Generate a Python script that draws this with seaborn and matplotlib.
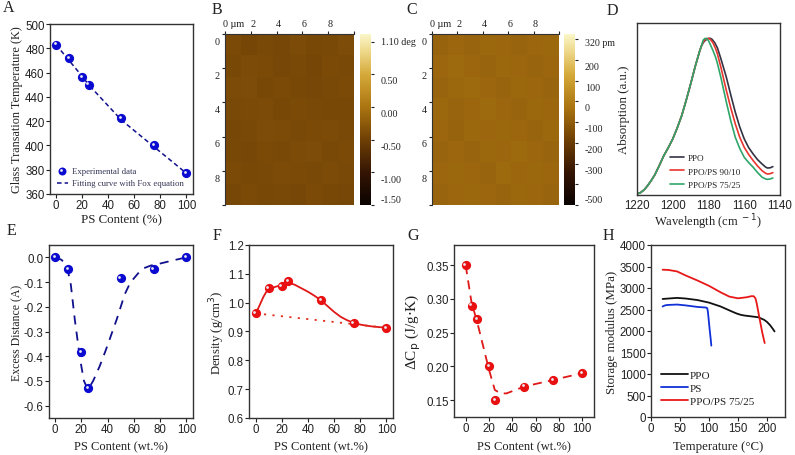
import numpy as np
import matplotlib
matplotlib.use("Agg")
import matplotlib.pyplot as plt
from matplotlib.colors import LinearSegmentedColormap
from matplotlib.transforms import ScaledTranslation
import seaborn as sns

W, H = 795, 456
SERIF = "Liberation Serif"
SANS = "Liberation Sans"

# A
a_x = [0, 10, 20, 25, 50, 75, 100]
a_y = [483, 472, 456, 450, 422.5, 400.5, 377]
a_fit_x = [0, 10, 20, 25, 50, 75, 100]
a_fit_y = [483, 470, 457, 450, 421, 399, 377]
# E
e_x = [0, 10, 20, 25, 50, 75, 100]
e_y = [0, -0.047, -0.383, -0.528, -0.083, -0.047, 0]
e_fit_x = [0, 5, 8, 10, 12, 15, 19, 22, 25, 29, 34, 39, 43, 47, 53, 57, 60, 64, 67, 73, 80, 90, 100]
e_fit_y = [0, -0.01, -0.03, -0.06, -0.11, -0.25, -0.41, -0.50, -0.535, -0.50, -0.44, -0.37, -0.31, -0.25, -0.15, -0.105, -0.085, -0.06, -0.045, -0.033, -0.025, -0.012, 0]
# F
f_x = [0, 10, 20, 25, 50, 75, 100]
f_y = [0.963, 1.05, 1.058, 1.075, 1.008, 0.93, 0.913]
f_fit_x = [0, 2, 4, 6, 8, 10, 13, 16, 20, 25, 30, 35, 40, 45, 50, 55, 60, 65, 70, 75, 80, 85, 90, 100]
f_fit_y = [0.963, 0.98, 1.0, 1.02, 1.036, 1.045, 1.052, 1.056, 1.062, 1.07, 1.062, 1.05, 1.038, 1.024, 1.008, 0.988, 0.968, 0.951, 0.939, 0.93, 0.924, 0.92, 0.917, 0.913]
f_base_x = [0, 100]
f_base_y = [0.963, 0.913]
# G
g_x = [0, 5, 10, 20, 25, 50, 75, 100]
g_y = [0.35, 0.29, 0.27, 0.20, 0.15, 0.17, 0.18, 0.19]
g_fit_x = [0, 5, 10, 15, 20, 25, 30, 35, 50, 75, 100]
g_fit_y = [0.35, 0.295, 0.265, 0.23, 0.195, 0.165, 0.16, 0.16, 0.17, 0.18, 0.19]
# D
d_left_x = [1220, 1218, 1216, 1214, 1212, 1210, 1207.5, 1205, 1202.5, 1200, 1197.5, 1195, 1192.5, 1190, 1187.5, 1185, 1184]
d_left_y = [0.006, 0.014, 0.03, 0.055, 0.085, 0.118, 0.172, 0.229, 0.275, 0.326, 0.39, 0.461, 0.55, 0.645, 0.745, 0.835, 0.865]
d_ppo_x = [1183, 1182, 1181, 1180, 1179, 1178, 1176.5, 1175, 1173, 1170, 1167.5, 1165, 1162.5, 1160, 1157.5, 1155, 1152.5, 1150, 1148, 1147, 1145.5, 1144]
d_ppo_y = [0.885, 0.897, 0.905, 0.91, 0.911, 0.905, 0.885, 0.855, 0.79, 0.684, 0.58, 0.481, 0.395, 0.326, 0.275, 0.238, 0.205, 0.18, 0.162, 0.157, 0.158, 0.165]
d_blend90_x = [1183, 1182, 1181, 1180, 1179, 1177.5, 1176, 1175, 1173, 1170, 1167.5, 1165, 1162.5, 1160, 1157.5, 1155, 1152.5, 1150, 1148, 1147, 1145.5, 1144]
d_blend90_y = [0.89, 0.902, 0.909, 0.911, 0.905, 0.885, 0.85, 0.82, 0.74, 0.607, 0.505, 0.413, 0.335, 0.277, 0.235, 0.20, 0.168, 0.141, 0.126, 0.122, 0.124, 0.13]
d_blend75_x = [1183, 1182, 1181, 1180, 1179, 1177.5, 1176, 1175, 1173, 1170, 1167.5, 1165, 1162.5, 1160, 1157.5, 1155, 1152.5, 1150, 1148, 1147, 1145.5, 1144]
d_blend75_y = [0.90, 0.91, 0.91, 0.897, 0.875, 0.84, 0.80, 0.765, 0.68, 0.539, 0.43, 0.335, 0.27, 0.219, 0.188, 0.161, 0.13, 0.103, 0.093, 0.091, 0.093, 0.099]
# H
h_ppo_t = [20, 30, 45, 60, 80, 100, 120, 130, 140, 148, 155, 162, 170, 185, 195, 200, 205, 210, 213]
h_ppo_v = [2745, 2755, 2770, 2755, 2720, 2660, 2570, 2510, 2450, 2405, 2375, 2358, 2345, 2320, 2260, 2210, 2140, 2050, 1990]
h_ps_t = [20, 24, 28, 45, 60, 80, 95, 97, 98, 99, 101, 103, 104]
h_ps_v = [2570, 2595, 2605, 2615, 2595, 2560, 2545, 2530, 2450, 2330, 2050, 1800, 1660]
h_blend_t = [20, 30, 45, 60, 80, 100, 120, 135, 150, 165, 173, 177, 180, 182, 187, 192, 196]
h_blend_v = [3425, 3420, 3385, 3290, 3175, 3050, 2900, 2800, 2760, 2785, 2810, 2810, 2760, 2660, 2300, 1950, 1720]
# B, C: estimated local means of the scans; the fine grain is not readable as values
b_scan = [
    [-0.40, -0.44, -0.41, -0.43, -0.39, -0.42, -0.41, -0.38],
    [-0.42, -0.39, -0.40, -0.43, -0.41, -0.44, -0.40, -0.41],
    [-0.39, -0.38, -0.42, -0.40, -0.42, -0.43, -0.41, -0.40],
    [-0.41, -0.40, -0.39, -0.42, -0.40, -0.41, -0.42, -0.42],
    [-0.43, -0.41, -0.38, -0.39, -0.41, -0.40, -0.39, -0.41],
    [-0.42, -0.43, -0.40, -0.41, -0.39, -0.38, -0.41, -0.40],
    [-0.40, -0.42, -0.41, -0.39, -0.40, -0.41, -0.39, -0.41],
    [-0.43, -0.40, -0.42, -0.41, -0.43, -0.40, -0.42, -0.43],
]
c_scan = [
    [-80, -70, -75, -65, -70, -75, -70, -65],
    [-70, -60, -70, -75, -65, -70, -75, -70],
    [-75, -65, -60, -70, -75, -65, -70, -75],
    [-65, -75, -70, -60, -70, -75, -65, -70],
    [-70, -80, -65, -70, -65, -70, -75, -65],
    [-75, -70, -75, -65, -70, -60, -70, -75],
    [-70, -65, -70, -75, -60, -70, -65, -70],
    [-75, -70, -65, -70, -75, -65, -70, -75],
]
b_bar_labels = ["-1.50", "-1.00", "-0.50", "0.00", "0.50", "1.10 deg"]
c_bar_labels = ["-500", "-300", "-200", "-100", "0", "100", "200", "320 pm"]
um_labels = ["0 \u00b5m", "2", "4", "6", "8"]

afm = LinearSegmentedColormap.from_list("afm", [
    (0.00, "#0a0300"), (0.19, "#341503"), (0.38, "#6e3f05"), (0.57, "#aa7410"),
    (0.76, "#d4a838"), (0.90, "#eed88a"), (1.00, "#faf6c8")])

sns.set_theme(style="ticks")
plt.rcParams.update({"font.family": SERIF, "axes.linewidth": 1.0,
                     "axes.edgecolor": "#333333", "xtick.color": "#222222",
                     "ytick.color": "#222222", "text.color": "#222222",
                     "axes.labelcolor": "#222222"})
fig = plt.figure(figsize=(W / 100, H / 100), dpi=100)


def box(l, t, r, b):
    ax = fig.add_axes([l / W, 1 - b / H, (r - l) / W, (b - t) / H])
    ax._px = (l, t, r, b)
    return ax


def style(ax, xlabel, ylabel, xlim, ylim, xticks, yticks, xpos, ypos, xsize, ysize, fmt="{:g}", tick=8.3):
    ax.set_xlim(*xlim)
    ax.set_ylim(*ylim)
    ax.set_xticks(xticks)
    ax.set_yticks(yticks, [fmt.format(v) for v in yticks])
    ax.tick_params(length=3, width=0.8, pad=0.8, labelsize=tick, direction="out")
    for t in ax.get_xticklabels() + ax.get_yticklabels():
        t.set_fontfamily(SANS)
    l, t_, r, b = ax._px
    ax.set_xlabel(xlabel, fontsize=xsize, family=SERIF, va="center")
    ax.set_ylabel(ylabel, fontsize=ysize, family=SERIF, va="center")
    ax.xaxis.set_label_coords(0.5, (b - xpos) / (b - t_))
    ax.yaxis.set_label_coords((ypos - l) / (r - l), 0.5)


def balls(ax, x, y, color, s=44):
    sns.scatterplot(x=x, y=y, ax=ax, color=color, s=s, linewidth=0, zorder=4, legend=False)
    off = ax.transData + ScaledTranslation(-0.9 / 72, 0.9 / 72, fig.dpi_scale_trans)
    ax.scatter(x, y, s=4, color="#e8e8f0", linewidth=0, zorder=5, transform=off)


def letter(x, y, s):
    fig.text(x / W, 1 - y / H, s, fontsize=11.5, family=SERIF, ha="left", va="center")


pct = [0, 20, 40, 60, 80, 100]

# Panel A
ax = box(50, 25, 193, 195)
sns.lineplot(x=a_fit_x, y=a_fit_y, ax=ax, color="#10108c", lw=1.1, ls=(0, (3, 2)), zorder=3)
balls(ax, a_x, a_y, "#0a0ad0")
style(ax, "PS Content (%)", "Glass Transation Temperature (K)", (-4.6, 105), (360, 500),
      pct, list(range(360, 501, 20)), 220, 17, 9.3, 8.8)
ax.scatter([4.6], [378.8], s=33, color="#0a0ad0", linewidth=0, zorder=4)
ax.scatter([4], [379.6], s=4, color="#e8e8f0", linewidth=0, zorder=5)
ax.text(12.3, 378.8, "Experimental data", fontsize=6.3, va="center", color="#333355")
sns.lineplot(x=[1, 9], y=[369, 369], ax=ax, color="#10108c", lw=1.1, ls=(0, (3, 2)))
ax.text(12.3, 369, "Fitting curve with Fox equation", fontsize=6.3, va="center", color="#333355")


# Panels B, C
def scan(l, r, cl, cr, data, vmin, vmax, bar_ticks, bar_pos, bar_labels):
    ax = box(l, 35, r, 206)
    cax = box(cl, 35, cr, 206)
    sns.heatmap(np.array(data), ax=ax, cbar_ax=cax, cmap=afm, vmin=vmin, vmax=vmax,
                xticklabels=False, yticklabels=False)
    n = len(data)
    ax.xaxis.tick_top()
    ax.tick_params(which="both", top=True, left=True, bottom=False, right=False)
    ax.set_xticks([(u + (0.7 if u == 0 else 0.15)) * n / 10 for u in (0, 2, 4, 6, 8)], um_labels)
    ax.set_yticks([(u + 0.37) * n / 10 for u in (0, 2, 4, 6, 8)], ["0", "2", "4", "6", "8"])
    ax.tick_params(which="major", length=0, pad=4, labelsize=7.3)
    ax.set_xticks([u * n / 10 for u in (0, 2, 4, 6, 8, 10)], minor=True)
    ax.set_yticks([u * n / 10 for u in (0, 2, 4, 6, 8, 10)], minor=True)
    ax.tick_params(which="minor", length=2.5, width=0.8)
    for sp in ("top", "left"):
        ax.spines[sp].set_visible(True)
        ax.spines[sp].set_linewidth(0.8)
    cax.set_yticks(bar_pos, bar_labels)
    cax.tick_params(which="major", length=0, pad=7, labelsize=7.2)
    cax.set_yticks(bar_ticks, minor=True)
    cax.tick_params(which="minor", length=2.5, width=0.8, right=True)
    for t in cax.get_yticklabels():
        t.set_fontfamily(SERIF)


scan(225, 354, 360, 371, b_scan, -1.5, 1.117, [-1.5, -1, -0.5, 0, 0.5, 1.0],
     [-1.408, -1.087, -0.582, -0.087, 0.423, 1.01], b_bar_labels)
scan(432, 559, 564, 575, c_scan, -500, 325, [-500, -400, -300, -200, -100, 0, 100, 200, 300],
     [-471, -327, -227, -126, -26, 71, 171, 291], c_bar_labels)

# Panel D
ax = box(637, 24, 780, 196)
for xs, ys, col, name in [(d_ppo_x, d_ppo_y, "#333344", "PPO"),
                          (d_blend90_x, d_blend90_y, "#e8352e", "PPO/PS 90/10"),
                          (d_blend75_x, d_blend75_y, "#2fa56a", "PPO/PS 75/25")]:
    sns.lineplot(x=d_left_x + xs, y=d_left_y + ys, ax=ax, color=col, lw=1.2, sort=False,
                 estimator=None, label=name)
style(ax, "Wavelength (cm$^{\\ -1}$)", "Absorption (a.u.)", (1220, 1140), (0, 1),
      [1220, 1200, 1180, 1160, 1140], [], 222, 624, 9, 9.3, tick=8.3)
ax.tick_params(axis="x", length=0, pad=3)
ax.legend(loc="lower left", bbox_to_anchor=(0.23, 0.035), frameon=False, fontsize=6.6,
          handlelength=1.5, labelspacing=0.55, handletextpad=0.5, borderpad=0, borderaxespad=0)

# Panel E
ax = box(49, 246, 193, 419)
sns.lineplot(x=e_fit_x, y=e_fit_y, ax=ax, color="#10108c", lw=1.3, ls=(0, (5, 4)), estimator=None, zorder=3)
balls(ax, e_x, e_y, "#0a0ad0")
style(ax, "PS Content (wt.%)", "Excess Distance (A)", (-4.6, 105), (-0.65, 0.05),
      pct, [0, -0.1, -0.2, -0.3, -0.4, -0.5, -0.6], 447, 17, 9, 8.5, fmt="{:.1f}")

# Panel F
ax = box(249, 246, 393, 419)
sns.lineplot(x=f_fit_x, y=f_fit_y, ax=ax, color="#e01818", lw=1.3, estimator=None, zorder=3)
sns.lineplot(x=f_base_x, y=f_base_y, ax=ax, color="#e03020", lw=1.3, ls=(0, (1.2, 3.5)), zorder=3)
balls(ax, f_x, f_y, "#e81010")
style(ax, "PS Content (wt.%)", "Density (g/cm$^{3}$)", (-5, 105), (0.6, 1.2),
      pct, [0.6, 0.7, 0.8, 0.9, 1.0, 1.1, 1.2], 447, 217, 9, 9.2, fmt="{:.1f}")

# Panel G
ax = box(454, 246, 594, 418)
sns.lineplot(x=g_fit_x, y=g_fit_y, ax=ax, color="#e01818", lw=1.3, ls=(0, (5, 3.5)), estimator=None, zorder=3)
balls(ax, g_x, g_y, "#e81010")
style(ax, "PS Content (wt.%)", "\u0394C$_{\\mathrm{p}}$ (J/g$\\cdot$K)", (-10, 110), (0.125, 0.38),
      pct, [0.15, 0.20, 0.25, 0.30, 0.35], 447, 413, 9, 11, fmt="{:.2f}")

# Panel H
ax = box(651, 246, 785, 418)
for xs, ys, col, name in [(h_ppo_t, h_ppo_v, "#111111", "PPO"),
                          (h_ps_t, h_ps_v, "#1030d8", "PS"),
                          (h_blend_t, h_blend_v, "#e81818", "PPO/PS 75/25")]:
    sns.lineplot(x=xs, y=ys, ax=ax, color=col, lw=1.3, estimator=None, label=name)
style(ax, "Temperature (\u00b0C)", "Storage modulus (MPa)", (0, 231), (0, 4000),
      [0, 50, 100, 150, 200], list(range(0, 4001, 500)), 447, 612, 9.3, 9.3)
ax.legend(loc="lower left", bbox_to_anchor=(0.075, 0.064), frameon=False, fontsize=8,
          handlelength=2.4, labelspacing=0.3, handletextpad=0.2, borderpad=0, borderaxespad=0)

for x, y, s in [(3, 8, "A"), (212, 10, "B"), (406, 10, "C"), (607, 11, "D"),
                (7, 231, "E"), (213, 236, "F"), (407, 236, "G"), (603, 236, "H")]:
    letter(x, y, s)

fig.savefig("out.png", dpi=100, facecolor="white")
